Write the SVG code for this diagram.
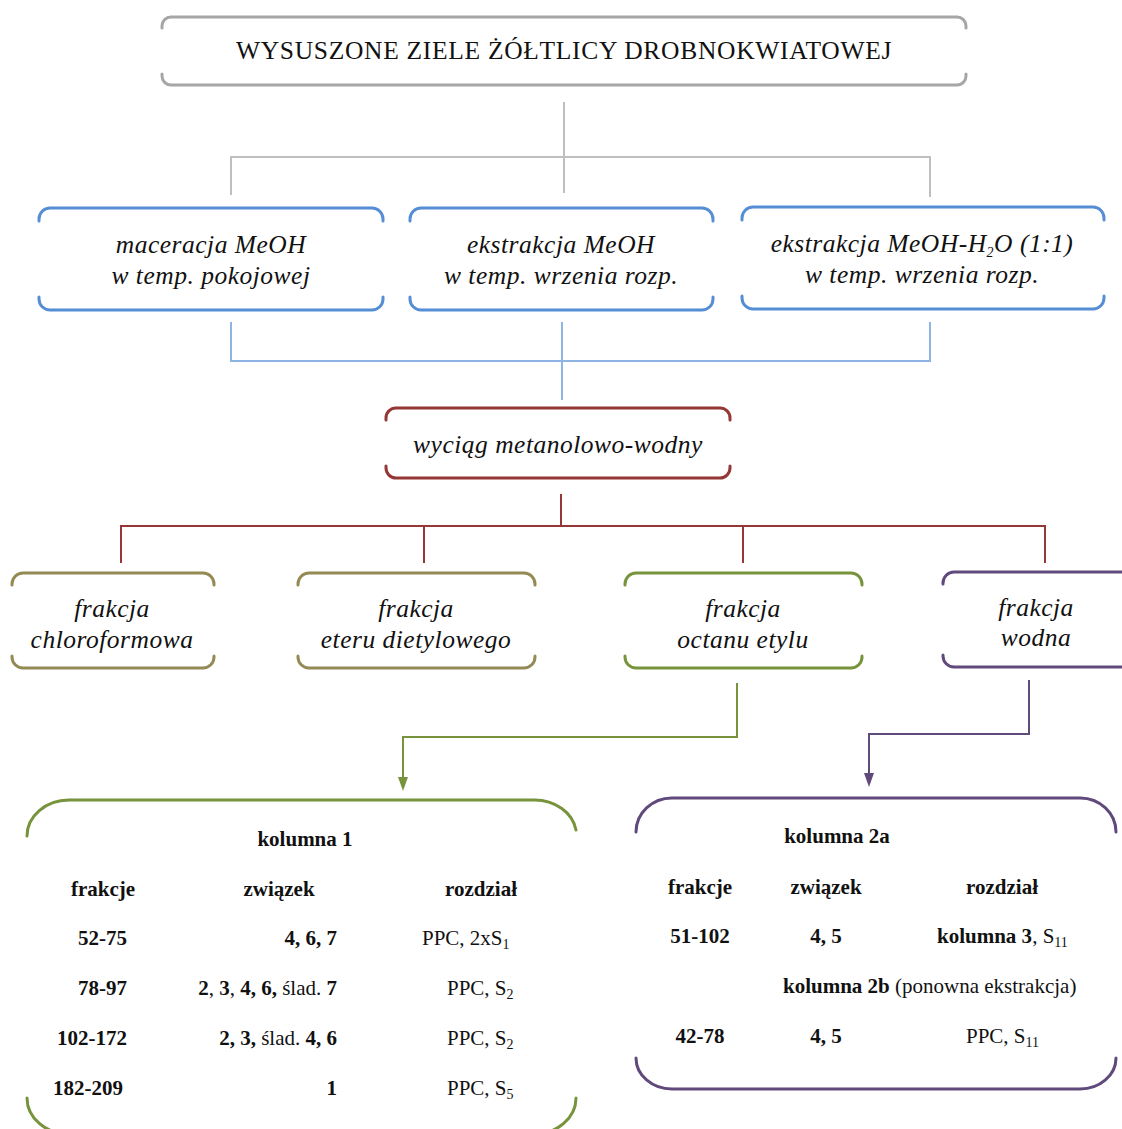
<svg xmlns="http://www.w3.org/2000/svg" width="1122" height="1129" viewBox="0 0 1122 1129">
<style>
  .box { fill: none; stroke-width: 3; stroke-linecap: round; }
  .conn { fill: none; stroke-width: 2; }
  .it { font-family: "Liberation Serif", "Times New Roman", serif; font-style: italic; font-size: 25.5px; letter-spacing: 0.5px; fill: #111; text-anchor: middle; }
  .title { font-family: "Liberation Serif", "Times New Roman", serif; font-size: 25.5px; letter-spacing: 0.7px; fill: #111; text-anchor: middle; }
  .tb { font-family: "Liberation Serif", "Times New Roman", serif; font-size: 21px; fill: #111; }
  .b { font-weight: bold; }
  .sub { font-size: 14px; }
</style>
<defs>
  <marker id="arrG" viewBox="0 0 14 10" refX="0" refY="5" markerWidth="14" markerHeight="10" markerUnits="userSpaceOnUse" orient="auto">
    <path d="M0,0 L14,5 L0,10 z" fill="#77933c"/>
  </marker>
  <marker id="arrP" viewBox="0 0 14 10" refX="0" refY="5" markerWidth="14" markerHeight="10" markerUnits="userSpaceOnUse" orient="auto">
    <path d="M0,0 L14,5 L0,10 z" fill="#604a7b"/>
  </marker>
</defs>

<g id="connectors">
  <path class="conn" stroke="#bfbfbf" d="M564,102 V193 M231,195 V157 H930 V197"/>
  <path class="conn" stroke="#8eb4e3" d="M231,322 V361 H930 V322 M562,322 V400"/>
  <path class="conn" stroke="#953735" d="M561,494 V526 M121,563 V526 H1045 V563 M424,526 V563 M743,526 V563"/>
  <path class="conn" stroke="#77933c" d="M737,683 V737 H403 V777" marker-end="url(#arrG)"/>
  <path class="conn" stroke="#604a7b" d="M1029,680 V734 H869 V773" marker-end="url(#arrP)"/>
</g>

<g id="node-top">
  <path class="box" stroke="#a6a6a6" d="M162,28 V26 A9,9 0 0 1 171,17 H957 A9,9 0 0 1 966,26 V28 M162,74 V76 A9,9 0 0 0 171,85 H957 A9,9 0 0 0 966,76 V74"/>
  <text class="title" x="564" y="59">WYSUSZONE ZIELE ŻÓŁTLICY DROBNOKWIATOWEJ</text>
</g>

<g id="node-maceracja">
  <path class="box" stroke="#558ed5" d="M39,221 V219 A11,11 0 0 1 50,208 H372 A11,11 0 0 1 383,219 V221 M39,297 V299 A11,11 0 0 0 50,310 H372 A11,11 0 0 0 383,299 V297"/>
  <text class="it" x="211" y="253">maceracja MeOH</text>
  <text class="it" x="211" y="284">w temp. pokojowej</text>
</g>

<g id="node-ekstrakcja1">
  <path class="box" stroke="#558ed5" d="M410,221 V219 A11,11 0 0 1 421,208 H702 A11,11 0 0 1 713,219 V221 M410,297 V299 A11,11 0 0 0 421,310 H702 A11,11 0 0 0 713,299 V297"/>
  <text class="it" x="561" y="253">ekstrakcja MeOH</text>
  <text class="it" x="561" y="284">w temp. wrzenia rozp.</text>
</g>

<g id="node-ekstrakcja2">
  <path class="box" stroke="#558ed5" d="M742,220 V218 A11,11 0 0 1 753,207 H1093 A11,11 0 0 1 1104,218 V220 M742,296 V298 A11,11 0 0 0 753,309 H1093 A11,11 0 0 0 1104,298 V296"/>
  <text class="it" x="922" y="252">ekstrakcja MeOH-H<tspan class="sub" dy="5">2</tspan><tspan dy="-5">O (1:1)</tspan></text>
  <text class="it" x="922" y="283">w temp. wrzenia rozp.</text>
</g>

<g id="node-wyciag">
  <path class="box" stroke="#953735" d="M386,420 V418 A10,10 0 0 1 396,408 H720 A10,10 0 0 1 730,418 V420 M386,466 V468 A10,10 0 0 0 396,478 H720 A10,10 0 0 0 730,468 V466"/>
  <text class="it" x="558" y="453">wyciąg metanolowo-wodny</text>
</g>

<g id="node-chloroformowa">
  <path class="box" stroke="#948a54" d="M12,585 V584 A11,11 0 0 1 23,573 H203 A11,11 0 0 1 214,584 V585 M12,656 V657 A11,11 0 0 0 23,668 H203 A11,11 0 0 0 214,657 V656"/>
  <text class="it" x="112" y="617">frakcja</text>
  <text class="it" x="112" y="648">chloroformowa</text>
</g>

<g id="node-eteru">
  <path class="box" stroke="#948a54" d="M298,585 V584 A11,11 0 0 1 309,573 H524 A11,11 0 0 1 535,584 V585 M298,656 V657 A11,11 0 0 0 309,668 H524 A11,11 0 0 0 535,657 V656"/>
  <text class="it" x="416" y="617">frakcja</text>
  <text class="it" x="416" y="648">eteru dietylowego</text>
</g>

<g id="node-octanu">
  <path class="box" stroke="#77933c" d="M625,585 V584 A11,11 0 0 1 636,573 H851 A11,11 0 0 1 862,584 V585 M625,656 V657 A11,11 0 0 0 636,668 H851 A11,11 0 0 0 862,657 V656"/>
  <text class="it" x="743" y="617">frakcja</text>
  <text class="it" x="743" y="648">octanu etylu</text>
</g>

<g id="node-wodna">
  <path class="box" stroke="#604a7b" d="M943,584 V583 A11,11 0 0 1 954,572 H1135 M943,655 V656 A11,11 0 0 0 954,667 H1135"/>
  <text class="it" x="1036" y="616">frakcja</text>
  <text class="it" x="1036" y="646">wodna</text>
</g>

<g id="node-kolumna1">
  <path class="box" stroke="#77933c" d="M27,836 A42,36 0 0 1 69,800 H534 A42,36 0 0 1 576,830 M27,1098 A42,36 0 0 0 69,1134 H534 A42,36 0 0 0 576,1098"/>
  <text class="tb b" x="305" y="846" text-anchor="middle">kolumna 1</text>
  <text class="tb b" x="103" y="896" text-anchor="middle">frakcje</text>
  <text class="tb b" x="279" y="896" text-anchor="middle">związek</text>
  <text class="tb b" x="481" y="896" text-anchor="middle">rozdział</text>

  <text class="tb b" x="127" y="945" text-anchor="end">52-75</text>
  <text class="tb b" x="337" y="945" text-anchor="end">4, 6, 7</text>
  <text class="tb" x="422" y="945">PPC, 2xS<tspan class="sub" dy="4">1</tspan></text>

  <text class="tb b" x="127" y="995" text-anchor="end">78-97</text>
  <text class="tb" x="337" y="995" text-anchor="end"><tspan class="b">2</tspan>, <tspan class="b">3</tspan>, <tspan class="b">4, 6,</tspan> ślad. <tspan class="b">7</tspan></text>
  <text class="tb" x="447" y="995">PPC, S<tspan class="sub" dy="4">2</tspan></text>

  <text class="tb b" x="127" y="1045" text-anchor="end">102-172</text>
  <text class="tb" x="337" y="1045" text-anchor="end"><tspan class="b">2, 3,</tspan> ślad. <tspan class="b">4, 6</tspan></text>
  <text class="tb" x="447" y="1045">PPC, S<tspan class="sub" dy="4">2</tspan></text>

  <text class="tb b" x="123" y="1095" text-anchor="end">182-209</text>
  <text class="tb b" x="337" y="1095" text-anchor="end">1</text>
  <text class="tb" x="447" y="1095">PPC, S<tspan class="sub" dy="4">5</tspan></text>
</g>

<g id="node-kolumna2">
  <path class="box" stroke="#604a7b" d="M636,832 A36,34 0 0 1 672,798 H1080 A36,34 0 0 1 1116,832 M636,1058 A36,31 0 0 0 672,1089 H1080 A36,31 0 0 0 1116,1058"/>
  <text class="tb b" x="837" y="843" text-anchor="middle">kolumna 2a</text>
  <text class="tb b" x="700" y="894" text-anchor="middle">frakcje</text>
  <text class="tb b" x="826" y="894" text-anchor="middle">związek</text>
  <text class="tb b" x="1002" y="894" text-anchor="middle">rozdział</text>

  <text class="tb b" x="700" y="943" text-anchor="middle">51-102</text>
  <text class="tb b" x="826" y="943" text-anchor="middle">4, 5</text>
  <text class="tb" x="937" y="943"><tspan class="b">kolumna 3</tspan>, S<tspan class="sub" dy="4">11</tspan></text>

  <text class="tb" x="783" y="993"><tspan class="b">kolumna 2b</tspan> (ponowna ekstrakcja)</text>

  <text class="tb b" x="700" y="1043" text-anchor="middle">42-78</text>
  <text class="tb b" x="826" y="1043" text-anchor="middle">4, 5</text>
  <text class="tb" x="966" y="1043">PPC, S<tspan class="sub" dy="4">11</tspan></text>
</g>
</svg>
